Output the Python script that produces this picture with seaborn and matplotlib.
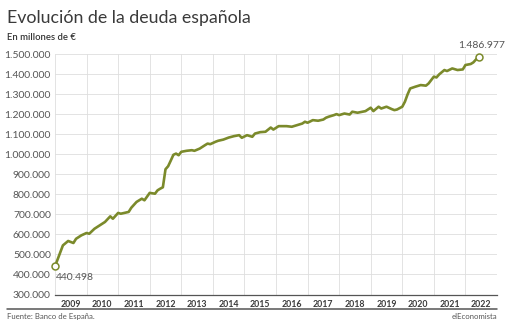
import matplotlib
matplotlib.use("Agg")
import matplotlib.pyplot as plt
import seaborn as sns
import pandas as pd

# Monthly Spanish public debt (millions of euros), Banco de España
months = [
    "2009-01", "2009-04", "2009-06", "2009-08", "2009-09", "2009-11",
    "2010-01", "2010-02", "2010-04", "2010-06", "2010-08", "2010-10", "2010-11",
    "2011-01", "2011-02", "2011-05", "2011-06", "2011-08", "2011-10", "2011-11",
    "2012-01", "2012-03", "2012-04", "2012-05", "2012-06", "2012-07", "2012-08",
    "2012-09", "2012-10", "2012-11", "2012-12",
    "2013-01", "2013-03", "2013-05", "2013-06", "2013-08", "2013-10", "2013-11", "2013-12",
    "2014-02", "2014-03", "2014-05", "2014-07", "2014-09", "2014-11", "2014-12",
    "2015-02", "2015-04", "2015-05", "2015-07", "2015-09", "2015-11", "2015-12",
    "2016-02", "2016-05", "2016-07", "2016-09", "2016-11", "2016-12",
    "2017-01", "2017-03", "2017-05", "2017-07", "2017-08", "2017-09", "2017-11", "2017-12",
    "2018-01", "2018-03", "2018-05", "2018-06", "2018-08", "2018-11",
    "2019-01", "2019-02", "2019-04", "2019-05", "2019-07", "2019-09", "2019-10", "2019-11",
    "2020-01", "2020-02", "2020-03", "2020-04", "2020-06", "2020-08", "2020-10", "2020-11",
    "2021-01", "2021-02", "2021-03", "2021-05", "2021-06", "2021-08", "2021-10", "2021-12",
    "2022-01", "2022-03", "2022-04", "2022-06",
]
debt = [
    440498, 545000, 567000, 557000, 578000, 595000,
    607000, 603000, 628000, 645000, 662000, 690000, 678000,
    707000, 703000, 712000, 733000, 762000, 778000, 770000,
    807000, 803000, 820000, 828000, 835000, 925000, 940000,
    968000, 997000, 1003000, 995000,
    1012000, 1017000, 1020000, 1017000, 1028000, 1045000, 1053000, 1050000,
    1062000, 1067000, 1073000, 1083000, 1090000, 1095000, 1082000,
    1095000, 1087000, 1103000, 1110000, 1112000, 1133000, 1123000,
    1140000, 1140000, 1137000, 1145000, 1153000, 1162000,
    1157000, 1170000, 1167000, 1173000, 1182000, 1187000, 1195000, 1200000,
    1195000, 1203000, 1198000, 1212000, 1207000, 1215000,
    1232000, 1215000, 1237000, 1228000, 1237000, 1225000, 1220000, 1223000,
    1237000, 1262000, 1298000, 1328000, 1337000, 1345000, 1342000, 1353000,
    1387000, 1383000, 1398000, 1420000, 1415000, 1428000, 1420000, 1423000,
    1445000, 1450000, 1458000, 1486977,
]
years = list(range(2009, 2023))
y_ticks = list(range(300000, 1500001, 100000))

LINE = "#7b8a2b"
GRID = "#dedede"
TEXT = "#3a3a3a"

dates = pd.to_datetime(months)
df = pd.DataFrame({"t": dates.year + (dates.month - 1) / 12.0, "deuda": debt})

sns.set_style("white")
plt.rcParams["font.family"] = ["Lato", "DejaVu Sans"]

fig = plt.figure(figsize=(5.13, 3.25), dpi=100)
ax = fig.add_axes([55 / 513, 1 - 294.5 / 325, 442 / 513, 240.5 / 325])

sns.lineplot(data=df, x="t", y="deuda", ax=ax, color=LINE, linewidth=1.9,
             solid_joinstyle="round", clip_on=False, zorder=3)

# hollow end markers with their values
first, last = df.iloc[0], df.iloc[-1]
for row in (first, last):
    ax.plot(row["t"], row["deuda"], marker="o", ms=5, mfc="white", mec=LINE,
            mew=1.1, clip_on=False, zorder=4)

def es_fmt(v):
    return f"{int(v):,}".replace(",", ".")

ax.annotate(es_fmt(first["deuda"]), (first["t"], first["deuda"]),
            xytext=(1, -5), textcoords="offset points", ha="left", va="top",
            fontsize=7.5, color="#555555")
ax.annotate(es_fmt(last["deuda"]), (last["t"], last["deuda"]),
            xytext=(2, 5), textcoords="offset points", ha="center", va="bottom",
            fontsize=7.5, color="#555555")

ax.set_xlim(2009, 2023)
ax.set_ylim(300000, 1500000)

ax.set_xticks(years + [2023])
ax.set_xticklabels([])
ax.set_xticks([y + 0.5 for y in years], minor=True)
ax.set_xticklabels([str(y) for y in years], minor=True, fontsize=6.3,
                   fontweight="bold", color=TEXT)
ax.tick_params(axis="x", which="both", length=0, pad=4)

ax.set_yticks(y_ticks)
ax.set_yticklabels([es_fmt(v) for v in y_ticks], fontsize=7.5, color="#555555")
ax.tick_params(axis="y", length=0, pad=3)

ax.grid(True, which="major", color=GRID, linewidth=0.6)
ax.set_xlabel("")
ax.set_ylabel("")
for side in ("top", "right", "left"):
    ax.spines[side].set_visible(False)
ax.spines["bottom"].set_color("#555555")
ax.spines["bottom"].set_linewidth(0.9)

fig.text(7 / 513, 1 - 18 / 325, "Evolución de la deuda española", fontsize=12.8,
         fontweight="normal", color="#3a3a3a", va="center", ha="left")
fig.text(7 / 513, 1 - 38 / 325, "En millones de €", fontsize=6.8,
         fontweight="semibold", color="#333333", va="center", ha="left")

fig.add_artist(plt.Line2D([7 / 513, 497 / 513], [1 - 309 / 325, 1 - 309 / 325],
                          color="#555555", linewidth=1.1))
fig.text(7 / 513, 1 - 316.5 / 325, "Fuente: Banco de España.", fontsize=5.6,
         color="#555555", va="center", ha="left")
fig.text(497 / 513, 1 - 316.5 / 325, "elEconomista", fontsize=5.6,
         color="#555555", va="center", ha="right")

fig.savefig("out.png", dpi=100, facecolor="white")
